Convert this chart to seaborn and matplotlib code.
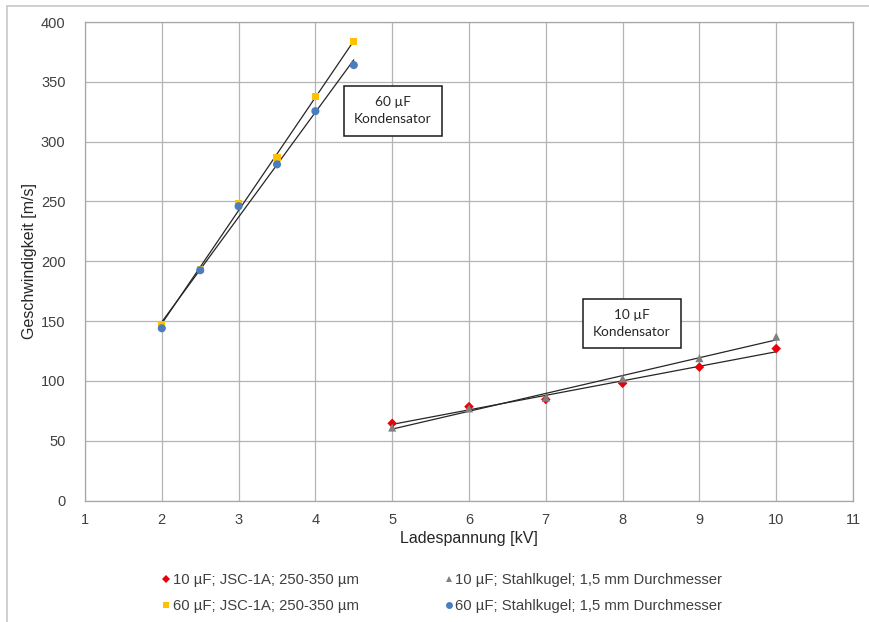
import numpy as np
import pandas as pd
import matplotlib
matplotlib.use("Agg")
import matplotlib.pyplot as plt
from matplotlib.lines import Line2D
import seaborn as sns

# charging voltage [kV] and measured speeds [m/s]
volt_10uf = [5, 6, 7, 8, 9, 10]
volt_60uf = [2, 2.5, 3, 3.5, 4, 4.5]

v_10uf_jsc = [64.5, 78.5, 84.5, 98, 111.5, 127]
v_10uf_steel = [61, 77, 86, 102, 119, 137]
v_60uf_jsc = [147, 193, 248.5, 287, 337.5, 383.5]
v_60uf_steel = [144, 192.5, 246, 281, 325.5, 364]

labels = [
    "10 µF; JSC-1A; 250-350 µm",
    "60 µF; JSC-1A; 250-350 µm",
    "10 µF; Stahlkugel; 1,5 mm Durchmesser",
    "60 µF; Stahlkugel; 1,5 mm Durchmesser",
]
colors = ["#e8000b", "#ffc000", "#808080", "#4a7cc0"]
markers = ["D", "s", "^", "o"]
sizes = [24, 28, 34, 34]
legend_sizes = [4.2, 5, 5, 5]

series = [
    (volt_10uf, v_10uf_jsc),
    (volt_60uf, v_60uf_jsc),
    (volt_10uf, v_10uf_steel),
    (volt_60uf, v_60uf_steel),
]

rows = []
for lab, (xs, ys) in zip(labels, series):
    for x, y in zip(xs, ys):
        rows.append({"Ladespannung": x, "Geschwindigkeit": y, "Serie": lab})
df = pd.DataFrame(rows)

sns.set_style("white")
plt.rcParams["font.family"] = ["Liberation Sans", "DejaVu Sans"]

fig = plt.figure(figsize=(8.69, 6.22), dpi=100)
ax = fig.add_axes([0.0978, 0.1953, 0.8838, 0.7693])

# linear trend lines
for lab in labels:
    sub = df[df["Serie"] == lab]
    sns.regplot(data=sub, x="Ladespannung", y="Geschwindigkeit", ax=ax,
                scatter=False, ci=None, truncate=True,
                line_kws={"color": "#262626", "lw": 0.9, "zorder": 3})

# points
for lab, c, m, s in zip(labels, colors, markers, sizes):
    sub = df[df["Serie"] == lab]
    sns.scatterplot(data=sub, x="Ladespannung", y="Geschwindigkeit", ax=ax,
                    color=c, marker=m, s=s, edgecolor="none", zorder=4,
                    legend=False)

ax.set_xlim(1, 11)
ax.set_ylim(0, 400)
ax.set_xticks(range(1, 12))
ax.set_yticks(range(0, 401, 50))
ax.grid(True, color="#b4b4b4", lw=0.9)
ax.set_axisbelow(True)
for sp in ax.spines.values():
    sp.set_color("#a6a6a6")
    sp.set_linewidth(0.9)
ax.tick_params(axis="both", length=0, labelsize=10.5, colors="#404040")
ax.tick_params(axis="x", pad=9)
ax.tick_params(axis="y", pad=14)
ax.set_xlabel("Ladespannung [kV]", fontsize=11.5, color="#262626", labelpad=3)
ax.set_ylabel("Geschwindigkeit [m/s]", fontsize=11.5, color="#262626", labelpad=3)

box = dict(boxstyle="square,pad=0.75", fc="white", ec="#1a1a1a", lw=1.1)
ax.text(5.01, 326, "60 µF\nKondensator", ha="center", va="center",
        fontsize=9.8, family=["Lato", "DejaVu Sans"], linespacing=1.55,
        bbox=box, zorder=6)
ax.text(8.12, 148, "10 µF\nKondensator", ha="center", va="center",
        fontsize=9.8, family=["Lato", "DejaVu Sans"], linespacing=1.55,
        bbox=box, zorder=6)

handles = [Line2D([], [], ls="none", marker=m, color=c, markersize=ms,
                  markeredgewidth=0)
           for m, c, ms in zip(markers, colors, legend_sizes)]
fig.legend(handles, labels, ncol=2, loc="center left",
           bbox_to_anchor=(0.168, 0.046), frameon=False, fontsize=10.7,
           handletextpad=0.0, handlelength=0.9, columnspacing=5.6,
           labelspacing=0.8, labelcolor="#404040")

# border of the screenshot frame (top and left)
fig.add_artist(Line2D([0.008, 1.0], [0.9904, 0.9904], color="#c8c8c8", lw=1.2,
                      transform=fig.transFigure))
fig.add_artist(Line2D([0.008, 0.008], [0.0, 0.9904], color="#c8c8c8", lw=1.2,
                      transform=fig.transFigure))

fig.savefig("out.png", dpi=100)
